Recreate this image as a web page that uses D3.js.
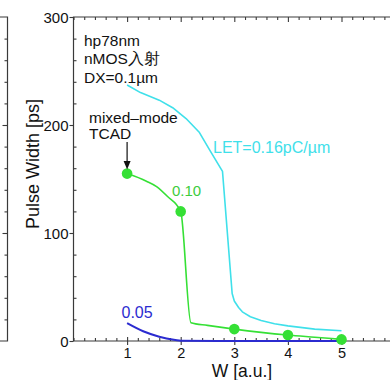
<!DOCTYPE html>
<html>
<head>
<meta charset="utf-8">
<script src="https://cdn.jsdelivr.net/npm/d3@7/dist/d3.min.js"></script>
<style>
  html, body { margin: 0; padding: 0; background: #fff; }
  svg { display: block; }
  text { font-family: "Liberation Sans", Arial, Helvetica, sans-serif; }
</style>
</head>
<body>
<svg id="chart" width="390" height="380"></svg>
<script>
// Pulse width vs. W for three LET values
const xTickValues = [1, 2, 3, 4, 5];
const yTickValues = [0, 100, 200, 300];

const cyanW  = [1.0, 1.25, 1.6, 1.85, 2.1, 2.35, 2.55, 2.78, 2.96, 3.0, 3.08, 3.15, 3.3, 3.5, 3.75, 4.0, 4.5, 5.0];
const cyanPW = [237, 230, 223, 216, 206, 193, 176, 157, 44, 37, 31, 27, 22.5, 19, 16, 14, 11, 9.5];

const greenW  = [1.0, 1.36, 1.55, 1.75, 2.0, 2.19, 2.5, 3.0, 3.5, 4.0, 4.5, 5.0];
const greenPW = [155, 148, 143, 134, 120, 17, 14.5, 11, 8, 5.5, 3.5, 1.5];

const blueW  = [1.0, 1.3, 1.6, 1.9, 2.0, 3.0, 4.0, 5.0];
const bluePW = [16.5, 9, 4, 1, 0.3, 0, 0, 0];

const tcadW  = [1, 2, 3, 4, 5];
const tcadPW = [155, 120, 11, 5.5, 1.5];

const seriesLabels = ["LET=0.16pC/µm", "0.10", "0.05"];
const infoLines = ["hp78nm", "nMOS入射", "DX=0.1µm"];
const tcadLines = ["mixed–mode", "TCAD"];
const xTitle = "W [a.u.]";
const yTitle = "Pulse Width [ps]";

const cyan = "#3fe0ea", green = "#35e035", greenText = "#3ccc3c", blue = "#2b2bd0";
const axisColor = "#3a3a3a";

const svg = d3.select("#chart");
const x = d3.scaleLinear().domain([0, 6]).range([73.5, 395.1]);
const y = d3.scaleLinear().domain([0, 300]).range([341, 17]);

const xMinor = d3.range(0, 6.01, 0.2).map(v => +v.toFixed(1)).filter(v => !xTickValues.includes(v));
const yMinor = d3.range(0, 301, 20).filter(v => v % 100 !== 0);

function styleAxis(g) {
  g.select(".domain").remove();
  g.selectAll("line").attr("stroke", axisColor).attr("stroke-width", 1.1);
  g.selectAll("text").attr("fill", "#111").attr("font-size", 15);
}

// frame of the neighbouring panel (its right edge only)
const left = svg.append("g");
left.append("path")
  .attr("d", `M0,${y(300)}H7.5V${y(0)}H0`)
  .attr("fill", "none").attr("stroke", axisColor).attr("stroke-width", 1.2);
left.append("g").attr("transform", "translate(7.5,0)")
  .call(d3.axisLeft(y).tickValues(yMinor.filter(v => v > 0 && v < 300)).tickSize(3).tickFormat(""))
  .call(styleAxis);
left.append("g").attr("transform", "translate(7.5,0)")
  .call(d3.axisLeft(y).tickValues([100, 200]).tickSize(5).tickFormat(""))
  .call(styleAxis);

// main frame
svg.append("path")
  .attr("d", `M395,${y(300)}H${x(0)}V${y(0)}H395`)
  .attr("fill", "none").attr("stroke", axisColor).attr("stroke-width", 1.2);

// y axis: outward major ticks with labels, inward minor ticks
svg.append("g").attr("transform", `translate(${x(0)},0)`)
  .call(d3.axisLeft(y).tickValues(yTickValues).tickSize(4).tickPadding(1))
  .call(styleAxis)
  .call(g => g.selectAll("text").attr("dy", "0.36em"));
svg.append("g").attr("transform", `translate(${x(0)},0)`)
  .call(d3.axisRight(y).tickValues(yMinor).tickSize(3).tickFormat(""))
  .call(styleAxis);

// x axis: bottom
svg.append("g").attr("transform", `translate(0,${y(0)})`)
  .call(d3.axisBottom(x).tickValues(xTickValues).tickSize(4).tickPadding(2.5).tickFormat(d3.format("d")))
  .call(styleAxis)
  .call(g => g.selectAll("text").attr("font-size", 14.5));
svg.append("g").attr("transform", `translate(0,${y(0)})`)
  .call(d3.axisTop(x).tickValues(xTickValues).tickSize(4).tickFormat(""))
  .call(styleAxis);
svg.append("g").attr("transform", `translate(0,${y(0)})`)
  .call(d3.axisTop(x).tickValues(xMinor).tickSize(3).tickFormat(""))
  .call(styleAxis);
// x axis: top (inward ticks only)
svg.append("g").attr("transform", `translate(0,${y(300)})`)
  .call(d3.axisBottom(x).tickValues(xTickValues).tickSize(5).tickFormat(""))
  .call(styleAxis);
svg.append("g").attr("transform", `translate(0,${y(300)})`)
  .call(d3.axisBottom(x).tickValues(xMinor).tickSize(3).tickFormat(""))
  .call(styleAxis);

// axis titles
svg.append("text").attr("x", 242).attr("y", 377)
  .attr("text-anchor", "middle").attr("font-size", 17.5).attr("fill", "#111").text(xTitle);
svg.append("text").attr("transform", "translate(39,164) rotate(-90)")
  .attr("text-anchor", "middle").attr("font-size", 18).attr("fill", "#111").text(yTitle);

// curves
const smooth = d3.line().x(d => x(d[0])).y(d => y(d[1])).curve(d3.curveMonotoneX);
const straight = d3.line().x(d => x(d[0])).y(d => y(d[1]));
const plot = svg.append("g");
plot.append("path").datum(d3.zip(blueW, bluePW)).attr("d", smooth)
  .attr("fill", "none").attr("stroke", blue).attr("stroke-width", 2);
plot.append("path").datum(d3.zip(cyanW, cyanPW)).attr("d", straight)
  .attr("fill", "none").attr("stroke", cyan).attr("stroke-width", 1.6)
  .attr("stroke-linejoin", "round");
plot.append("path").datum(d3.zip(greenW, greenPW)).attr("d", smooth)
  .attr("fill", "none").attr("stroke", green).attr("stroke-width", 1.6);
plot.selectAll("circle.tcad").data(d3.zip(tcadW, tcadPW)).join("circle")
  .attr("class", "tcad")
  .attr("cx", d => x(d[0])).attr("cy", d => y(d[1])).attr("r", 5.3)
  .attr("fill", green);

// series labels
svg.append("text").attr("x", 213).attr("y", 153).attr("font-size", 16)
  .attr("fill", cyan).text(seriesLabels[0]);
svg.append("text").attr("x", 172).attr("y", 196).attr("font-size", 15)
  .attr("fill", greenText).text(seriesLabels[1]);
svg.append("text").attr("x", 121.5).attr("y", 318).attr("font-size", 16)
  .attr("fill", blue).text(seriesLabels[2]);

// condition notes
svg.append("g").selectAll("text").data(infoLines).join("text")
  .attr("x", 84).attr("y", (d, i) => 45.5 + i * 18.6)
  .attr("font-size", 15.5).attr("fill", "#111").text(d => d);

// TCAD annotation with arrow to the first marker
svg.append("g").selectAll("text").data(tcadLines).join("text")
  .attr("x", 89).attr("y", (d, i) => 123 + i * 15.5)
  .attr("font-size", 15.5).attr("fill", "#111").text(d => d);
const ax = x(tcadW[0]);
svg.append("line").attr("x1", ax).attr("x2", ax).attr("y1", 142).attr("y2", 162)
  .attr("stroke", "#111").attr("stroke-width", 1.2);
svg.append("path").attr("d", `M${ax - 3.5},161L${ax + 3.5},161L${ax},${y(tcadPW[0]) - 4}Z`)
  .attr("fill", "#111");
</script>
</body>
</html>
